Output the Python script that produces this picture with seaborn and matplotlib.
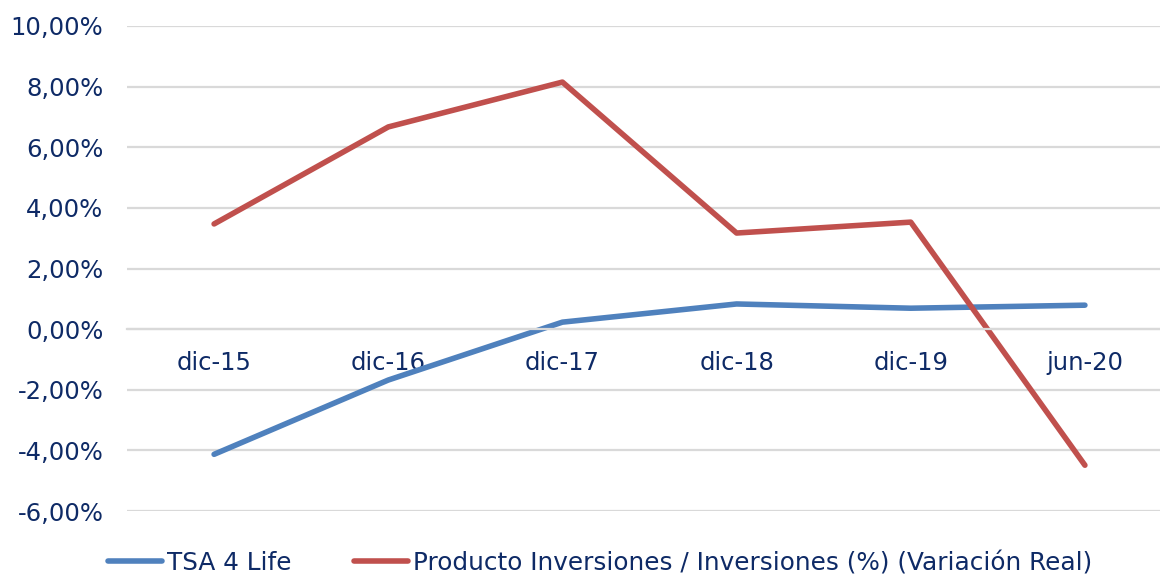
import pandas as pd
import matplotlib
matplotlib.use("Agg")
import matplotlib.pyplot as plt
from matplotlib.ticker import FuncFormatter, FixedLocator
import seaborn as sns

# data
periods = ['dic-15', 'dic-16', 'dic-17', 'dic-18', 'dic-19', 'jun-20']
tsa_4_life = [-4.13, -1.68, 0.23, 0.83, 0.69, 0.79]
producto_inv = [3.47, 6.67, 8.15, 3.17, 3.53, -4.49]
series_names = ['TSA 4 Life', 'Producto Inversiones / Inversiones (%) (Variación Real)']
y_ticks = [-6, -4, -2, 0, 2, 4, 6, 8, 10]

TEXT = '#0E2A66'
GRID = '#D9D9D9'
colors = ['#4F81BD', '#C0504D']

df = pd.DataFrame({
    'periodo': periods * 2,
    'valor': tsa_4_life + producto_inv,
    'serie': [series_names[0]] * len(periods) + [series_names[1]] * len(periods),
})

sns.set_style('white')
plt.rcParams['font.family'] = ['DejaVu Sans']
plt.rcParams['font.size'] = 17

fig = plt.figure(figsize=(11.6, 5.74), dpi=100)
ax = fig.add_axes([127 / 1160, 1 - 511 / 574, (1172 - 127) / 1160, (511 - 26) / 574])

sns.lineplot(data=df, x='periodo', y='valor', hue='serie', palette=colors,
             linewidth=4, ax=ax, sort=False)
for line in ax.lines:
    line.set_solid_capstyle('round')

ax.set_xlim(-0.5, len(periods) - 0.5)
ax.set_ylim(-6, 10)
ax.set_yticks(y_ticks)
ax.yaxis.set_major_formatter(FuncFormatter(lambda v, _: f'{v:.2f}'.replace('.', ',') + '%'))
ax.grid(axis='y', color=GRID, linewidth=1.6)
ax.set_axisbelow(True)
ax.tick_params(axis='y', length=0, pad=17, labelcolor=TEXT, labelsize=17.5)

# category axis crossing at zero
for s in ['left', 'right', 'top']:
    ax.spines[s].set_visible(False)
ax.spines['bottom'].set_position(('data', 0))
ax.spines['bottom'].set_color(GRID)
ax.spines['bottom'].set_linewidth(1.6)
ax.set_xticks(range(len(periods)))
ax.set_xticklabels(periods)
ax.xaxis.set_minor_locator(FixedLocator([i - 0.5 for i in range(len(periods) + 1)]))
ax.tick_params(axis='x', which='major', length=0, pad=16, labelcolor=TEXT, labelsize=17.5)
ax.tick_params(axis='x', which='minor', length=7, width=1.6, color=GRID, direction='out')
ax.set_xlabel('')
ax.set_ylabel('')

handles, labels = ax.get_legend_handles_labels()
ax.legend(handles, labels, loc='center', bbox_to_anchor=(600 / 1160, 1 - 563 / 574),
          bbox_transform=fig.transFigure, ncol=2, frameon=False, fontsize=17.8,
          labelcolor=TEXT, handlelength=2.2, handletextpad=0.2, columnspacing=2.5,
          borderaxespad=0)

fig.savefig('out.png', dpi=100)
